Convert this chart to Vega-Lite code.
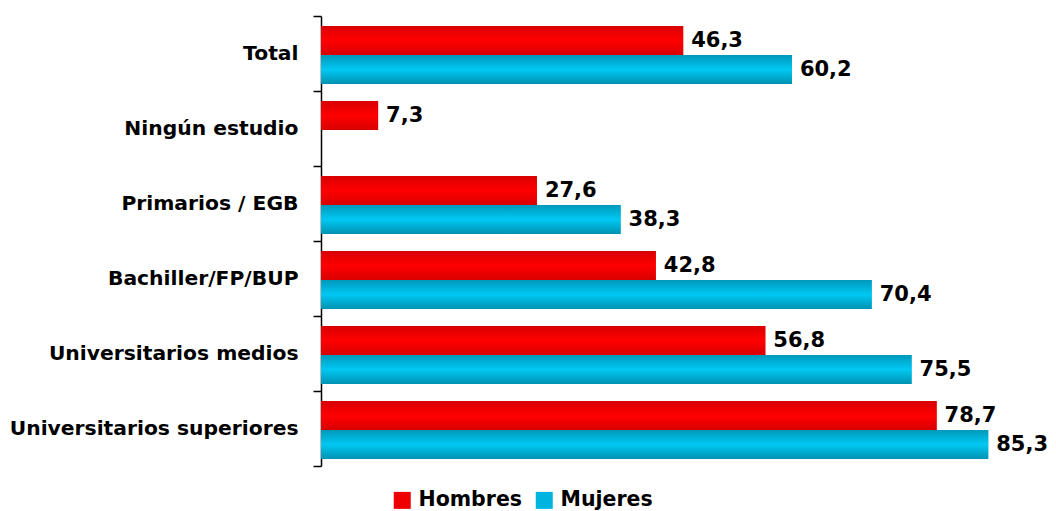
{
  "$schema": "https://vega.github.io/schema/vega-lite/v6.json",
  "autosize": "none",
  "padding": {"left": 321, "top": 16, "right": 31, "bottom": 45},
  "width": 704,
  "height": 450,
  "background": "white",
  "config": {"view": {"stroke": null}},
  "data": {
    "values": [
      {"cat": "Total", "serie": "Hombres", "value": 46.3, "label": "46,3"},
      {"cat": "Total", "serie": "Mujeres", "value": 60.2, "label": "60,2"},
      {"cat": "Ningún estudio", "serie": "Hombres", "value": 7.3, "label": "7,3"},
      {"cat": "Primarios / EGB", "serie": "Hombres", "value": 27.6, "label": "27,6"},
      {"cat": "Primarios / EGB", "serie": "Mujeres", "value": 38.3, "label": "38,3"},
      {"cat": "Bachiller/FP/BUP", "serie": "Hombres", "value": 42.8, "label": "42,8"},
      {"cat": "Bachiller/FP/BUP", "serie": "Mujeres", "value": 70.4, "label": "70,4"},
      {"cat": "Universitarios medios", "serie": "Hombres", "value": 56.8, "label": "56,8"},
      {"cat": "Universitarios medios", "serie": "Mujeres", "value": 75.5, "label": "75,5"},
      {"cat": "Universitarios superiores", "serie": "Hombres", "value": 78.7, "label": "78,7"},
      {"cat": "Universitarios superiores", "serie": "Mujeres", "value": 85.3, "label": "85,3"}
    ]
  },
  "encoding": {
    "y": {
      "field": "cat",
      "type": "nominal",
      "sort": ["Total", "Ningún estudio", "Primarios / EGB", "Bachiller/FP/BUP", "Universitarios medios", "Universitarios superiores"],
      "scale": {"paddingInner": 0, "paddingOuter": 0},
      "axis": {
        "title": null,
        "domainColor": "black",
        "domainWidth": 1.5,
        "tickColor": "black",
        "tickWidth": 1.5,
        "tickSize": 8,
        "tickBand": "extent",
        "labelPadding": 15,
        "labelFontSize": 20.3,
        "labelFontWeight": "bold",
        "labelFont": "DejaVu Sans",
        "labelColor": "black",
        "labelLimit": 0,
        "grid": false
      }
    },
    "yOffset": {
      "field": "serie",
      "type": "nominal",
      "scale": {"domain": ["Hombres", "Mujeres"], "paddingInner": 0, "paddingOuter": 0.293, "align": 0.59}
    },
    "x": {
      "field": "value",
      "type": "quantitative",
      "scale": {"domain": [0, 90]},
      "axis": null
    }
  },
  "layer": [
    {
      "mark": {"type": "bar"},
      "encoding": {
        "color": {
          "field": "serie",
          "type": "nominal",
          "scale": {"domain": ["Hombres", "Mujeres"], "range": ["#ee0000", "#00b4e0"]},
          "legend": {
            "title": null,
            "orient": "none",
            "legendX": 71,
            "legendY": 474,
            "direction": "horizontal",
            "symbolType": "square",
            "symbolSize": 289,
            "symbolStrokeWidth": 0,
            "labelFontSize": 20.5,
            "labelFontWeight": "bold",
            "labelFont": "DejaVu Sans",
            "labelColor": "black",
            "columnPadding": 12,
            "labelOffset": 6
          }
        }
      }
    },
    {
      "transform": [{"filter": "datum.serie === 'Hombres'"}],
      "mark": {
        "type": "bar",
        "fill": {
          "gradient": "linear", "x1": 0, "y1": 0, "x2": 0, "y2": 1,
          "stops": [
            {"offset": 0, "color": "#d80000"},
            {"offset": 0.5, "color": "#ff0000"},
            {"offset": 1, "color": "#d80000"}
          ]
        }
      }
    },
    {
      "transform": [{"filter": "datum.serie === 'Mujeres'"}],
      "mark": {
        "type": "bar",
        "fill": {
          "gradient": "linear", "x1": 0, "y1": 0, "x2": 0, "y2": 1,
          "stops": [
            {"offset": 0, "color": "#0098ba"},
            {"offset": 0.5, "color": "#00c8f2"},
            {"offset": 1, "color": "#0092b2"}
          ]
        }
      }
    },
    {
      "mark": {"type": "text", "align": "left", "baseline": "middle", "dx": 8, "fontSize": 21, "fontWeight": "bold", "font": "DejaVu Sans", "color": "black"},
      "encoding": {"text": {"field": "label", "type": "nominal"}}
    }
  ]
}
